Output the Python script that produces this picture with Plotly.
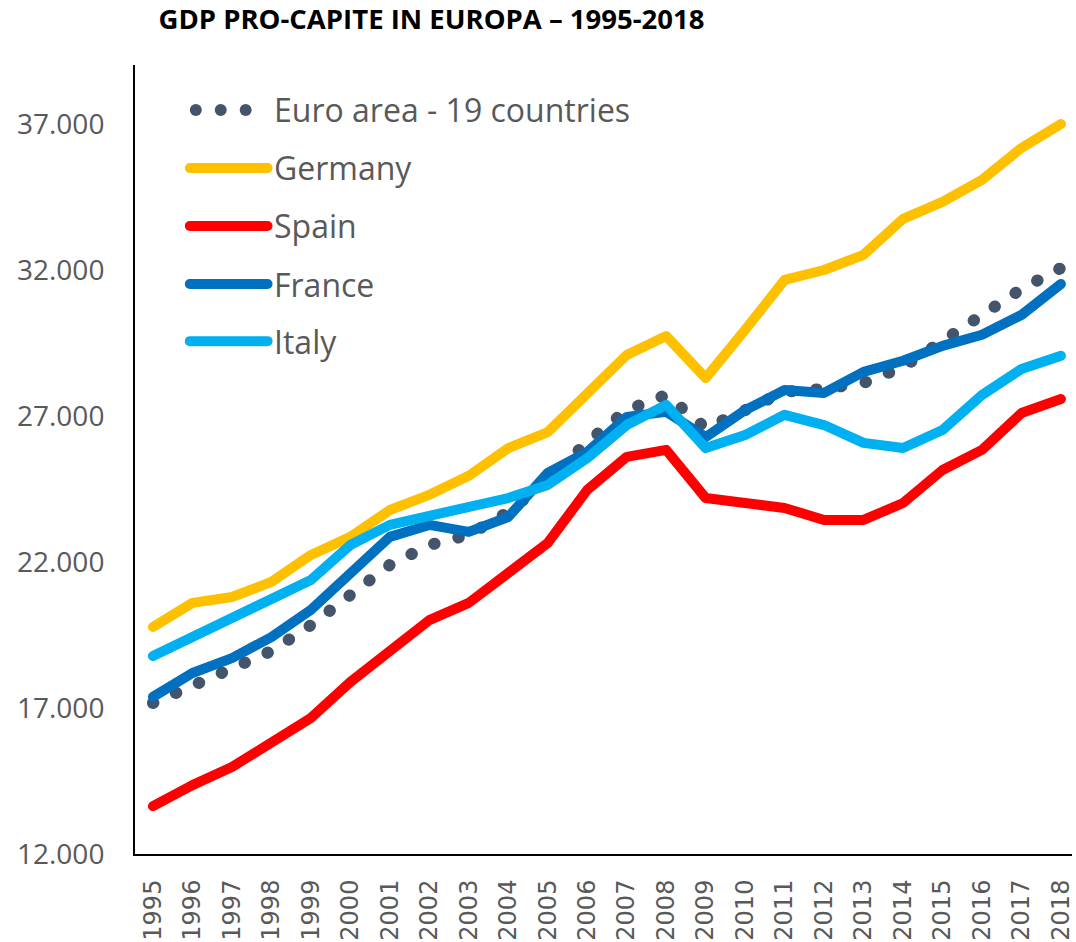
import plotly.graph_objects as go

years = [str(y) for y in range(1995, 2019)]

euro_area = [17170, 17790, 18400, 18950, 19840, 20870, 21900, 22580, 22930, 23710,
             24810, 26110, 27200, 27720, 26590, 27200, 27830, 27930, 28130, 28680,
             29600, 30430, 31350, 32070]
germany = [19775, 20600, 20800, 21320, 22240, 22860, 23780, 24300, 24950, 25900,
           26450, 27720, 29090, 29740, 28300, 29950, 31660, 32000, 32520, 33750,
           34330, 35085, 36180, 37000]
spain = [13640, 14360, 14980, 15840, 16660, 17890, 18990, 20010, 20600, 21600,
         22650, 24470, 25600, 25840, 24190, 24020, 23850, 23440, 23440, 24020,
         25150, 25840, 27100, 27580]
france = [17380, 18200, 18710, 19430, 20360, 21620, 22860, 23270, 23030, 23540,
          25050, 25770, 26970, 27140, 26280, 27200, 27890, 27790, 28510, 28890,
          29400, 29780, 30460, 31520]
italy = [18780, 19430, 20080, 20770, 21385, 22580, 23270, 23580, 23920, 24190,
         24640, 25560, 26690, 27380, 25900, 26350, 27040, 26690, 26080, 25905,
         26520, 27720, 28610, 29060]

series_names = ["Euro area - 19 countries", "Germany", "Spain", "France", "Italy"]
series_values = [euro_area, germany, spain, france, italy]
series_colors = ["#44546A", "#FFC000", "#FF0000", "#0070C0", "#00B0F0"]

y_tick_vals = [12000, 17000, 22000, 27000, 32000, 37000]
y_tick_text = ["12.000", "17.000", "22.000", "27.000", "32.000", "37.000"]

title_text = "GDP PRO-CAPITE IN EUROPA – 1995-2018"

fig = go.Figure()

for i in range(len(series_names)):
    if i == 0:
        line = dict(color=series_colors[i], width=12, dash="0.5px,24.5px")
    else:
        line = dict(color=series_colors[i], width=10)
    fig.add_trace(go.Scatter(x=years, y=series_values[i], mode="lines",
                             name=series_names[i], line=line,
                             showlegend=False, hoverinfo="skip"))

# custom legend (paper coordinates)
legend_y = [0.943, 0.8695, 0.796, 0.7224, 0.650]
x_line0, x_line1, x_text = 0.0585, 0.1415, 0.1457
shapes = []
annotations = []
for i, name in enumerate(series_names):
    ly = legend_y[i]
    if i == 0:
        for off in [0.0649, 0.0915, 0.1181]:
            shapes.append(dict(type="circle", xref="paper", yref="paper",
                               xsizemode="pixel", ysizemode="pixel",
                               xanchor=off, yanchor=ly,
                               x0=-6, x1=6, y0=-6, y1=6,
                               fillcolor=series_colors[i], line=dict(width=0)))
    else:
        shapes.append(dict(type="line", xref="paper", yref="paper",
                           x0=x_line0, x1=x_line1, y0=ly, y1=ly,
                           line=dict(color=series_colors[i], width=10)))
    annotations.append(dict(xref="paper", yref="paper", x=x_text, y=ly,
                            text=name, showarrow=False, xanchor="left",
                            yanchor="middle",
                            font=dict(family="Open Sans", size=32, color="#595959")))

fig.update_layout(
    width=1076, height=942,
    margin=dict(l=135, r=1, t=65, b=88),
    paper_bgcolor="white", plot_bgcolor="white",
    title=dict(text="<b>" + title_text + "</b>", x=0.401, xref="container",
               xanchor="center", y=0.979, yref="container", yanchor="middle",
               font=dict(family="Open Sans", size=27.5, color="black")),
    shapes=shapes,
    annotations=annotations,
    xaxis=dict(type="category", range=[-0.455, 23.28], showgrid=False,
               showline=True, linecolor="black", linewidth=2,
               tickangle=-90, ticks="", ticklabelstandoff=14,
               tickfont=dict(family="DejaVu Sans", size=24, color="#595959"),
               zeroline=False),
    yaxis=dict(range=[12000, 39020], showgrid=False, showline=True,
               linecolor="black", linewidth=2, tickvals=y_tick_vals,
               ticktext=y_tick_text, ticks="", ticklabelstandoff=23,
               tickfont=dict(family="Open Sans", size=28, color="#595959"),
               zeroline=False),
)

post_js = """
document.body.style.margin = '0';
document.body.style.overflow = 'hidden';
var gd = document.getElementById('{plot_id}');
function roundCaps(){
  gd.querySelectorAll('path.js-line').forEach(function(p){
    p.style.strokeLinecap='round'; p.style.strokeLinejoin='round';
  });
  gd.querySelectorAll('.shapelayer path').forEach(function(p){
    p.style.strokeLinecap='round';
  });
}
roundCaps();
gd.on('plotly_afterplot', roundCaps);
"""

fig.write_html("out.html", post_script=post_js, config={"displayModeBar": False})
